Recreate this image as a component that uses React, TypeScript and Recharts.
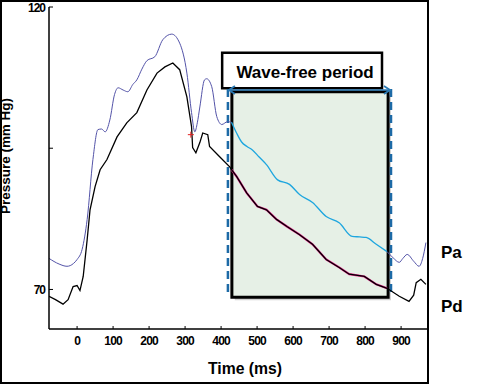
import { LineChart, Line, XAxis, YAxis, ReferenceArea, ReferenceLine, ReferenceDot } from "recharts";

type Pt = { t: number; v: number };
const pts = (rows: number[][]): Pt[] => rows.map(([t, v]) => ({ t, v }));

// time ticks (ms) and pressure ticks (mm Hg)
const timeTicks = [0, 100, 200, 300, 400, 500, 600, 700, 800, 900];
const pressureTicks = [70, 95, 120];
const labelledPressure = [70, 120];

// Pa before the wave-free window
const paBefore = pts([
  [-78, 75.5], [-50, 74.5], [-28, 74.1], [-10, 74.6], [0, 75.3], [14, 77.1], [28, 82.4], [44, 93.0],
  [58, 98.3], [68, 98.4], [78, 97.9], [91, 100.0], [104, 104.5], [114, 105.7], [128, 105.3], [141, 105.0],
  [155, 106.3], [166, 107.1], [180, 109.0], [194, 110.5], [216, 111.2], [238, 114.2], [263, 115.2],
  [285, 113.6], [305, 108.3], [318, 101.3], [327, 97.9], [334, 99.5], [341, 102.3], [354, 107.1],
  [360, 107.3], [374, 105.9], [388, 100.6], [402, 99.2], [418, 99.7], [429, 99.6],
]);

// Pa inside the window
const paWindow = pts([
  [429, 99.6], [443, 97.7], [457, 96.1], [472, 95.3], [487, 94.7], [505, 93.5], [526, 92.1], [557, 89.4],
  [590, 88.6], [618, 86.8], [654, 85.4], [692, 82.9], [728, 81.8], [764, 79.4], [785, 79.3], [803, 79.2],
  [831, 78.0], [861, 76.7],
]);

// Pa after the window
const paAfter = pts([
  [861, 76.7], [878, 75.6], [895, 74.8], [905, 75.5], [917, 76.2], [935, 75.0], [950, 74.1], [960, 75.5], [969, 78.3],
]);

// Pd, whole trace
const pdTrace = pts([
  [-78, 68.8], [-60, 68.2], [-39, 67.4], [-25, 68.2], [-11, 70.5], [0, 70.7], [8, 69.8], [17, 72.3],
  [28, 78.8], [36, 84.1], [50, 88.2], [64, 91.2], [83, 93.0], [111, 97.0], [138, 99.5], [166, 101.3],
  [194, 105.3], [222, 108.3], [244, 109.4], [266, 110.1], [285, 108.9], [305, 104.1], [318, 98.8],
  [321, 95.1], [330, 94.2], [341, 96.0], [349, 97.7], [363, 97.4], [368, 95.3], [396, 93.5], [424, 91.7],
  [429, 91.2], [443, 90.0], [471, 87.1], [501, 84.7], [526, 84.1], [554, 82.4], [584, 81.1], [618, 79.7],
  [654, 78.0], [692, 75.3], [728, 73.9], [756, 72.7], [798, 72.3], [831, 70.9], [861, 70.2], [895, 68.8],
  [922, 67.9], [935, 69.0], [942, 71.2], [955, 71.8], [969, 70.9],
]);

// Pd inside the window (highlight under the black trace)
const pdWindow = pts([
  [429, 91.2], [443, 90.0], [471, 87.1], [501, 84.7], [526, 84.1], [554, 82.4], [584, 81.1], [618, 79.7],
  [654, 78.0], [692, 75.3], [728, 73.9], [756, 72.7], [798, 72.3], [831, 70.9], [861, 70.2],
]);

const SANS = "'Liberation Sans', Arial, sans-serif";
const DASH = "#1d6aa6";

const arrowLeft = ({ cx, cy }: { cx?: number; cy?: number }) => (
  <path d={`M${cx! + 7},${cy! - 4} L${cx! + 1},${cy} L${cx! + 7},${cy! + 4}`} stroke="#2a7ab4" strokeWidth={1.8} fill="none" />
);
const arrowRight = ({ cx, cy }: { cx?: number; cy?: number }) => (
  <path d={`M${cx! - 7},${cy! - 4} L${cx! - 1},${cy} L${cx! - 7},${cy! + 4}`} stroke="#2a7ab4" strokeWidth={1.8} fill="none" />
);
const redCross = ({ cx, cy }: { cx?: number; cy?: number }) => (
  <path d={`M${cx! - 3},${cy} H${cx! + 3} M${cx},${cy! - 3} V${cy! + 3}`} stroke="#e02020" strokeWidth={1} />
);

export default function App() {
  return (
    <div style={{ position: "fixed", left: 0, top: 0, width: 480, height: 384, background: "#fff" }}>
      <div style={{ position: "absolute", left: 0, top: 0, width: 429, height: 384, border: "2px solid #000", boxSizing: "border-box" }} />
      <div style={{ position: "absolute", left: 0, top: 0 }}>
        <LineChart width={480} height={384} margin={{ top: 7, right: 53, bottom: 0, left: 0 }}>
          <XAxis
            type="number" dataKey="t" domain={[-78, 972]} ticks={timeTicks} allowDataOverflow height={55}
            axisLine={{ stroke: "#000", strokeWidth: 1.5 }} tickLine={{ stroke: "#000" }} tickSize={-3} tickMargin={10}
            tick={{ fontSize: 12, fontWeight: 700, fill: "#000", fontFamily: SANS, letterSpacing: -0.8 }}
            label={{
              content: () => (
                <g>
                  <text x={245} y={374} textAnchor="middle" fontSize={16} fontWeight={700} fontFamily={SANS} fill="#000"
                    textLength={74} lengthAdjust="spacingAndGlyphs">Time (ms)</text>
                  <text x={441} y={258} fontSize={17} fontWeight={700} fontFamily={SANS} fill="#000">Pa</text>
                  <text x={441} y={312} fontSize={17} fontWeight={700} fontFamily={SANS} fill="#000">Pd</text>
                </g>
              ),
            }}
          />
          <YAxis
            type="number" domain={[63, 120]} ticks={pressureTicks} allowDataOverflow width={49}
            axisLine={{ stroke: "#000", strokeWidth: 1.5 }} tickLine={{ stroke: "#000" }} tickSize={-4} tickMargin={8}
            tickFormatter={(v: number) => (labelledPressure.includes(v) ? String(v) : "")}
            tick={{ fontSize: 12, fontWeight: 700, fill: "#000", fontFamily: SANS, letterSpacing: -1 }}
            label={{
              content: () => (
                <text x={6} y={156} transform="rotate(-90 6 156)" textAnchor="middle" dominantBaseline="central"
                  fontSize={12} fontWeight={700} fontFamily={SANS} fill="#000"
                  textLength={116} lengthAdjust="spacingAndGlyphs">Pressure (mm Hg)</text>
              ),
            }}
          />
          <ReferenceArea x1={438} x2={872} y1={68.1} y2={104.4} fill="#b8b8b8" fillOpacity={0.6} stroke="none" />
          <ReferenceArea x1={430} x2={864} y1={68.6} y2={105} fill="#e6f0e6" fillOpacity={1} stroke="#000" strokeWidth={3} />
          <ReferenceLine segment={[{ x: 419, y: 105.5 }, { x: 419, y: 69.3 }]} stroke={DASH} strokeWidth={2.5} strokeDasharray="8 5" />
          <ReferenceLine segment={[{ x: 872, y: 105.5 }, { x: 872, y: 69.0 }]} stroke={DASH} strokeWidth={2.5} strokeDasharray="8 5" />
          <ReferenceLine segment={[{ x: 419, y: 105.3 }, { x: 872, y: 105.3 }]} stroke="#2a7ab4" strokeWidth={1.5} />
          <ReferenceDot x={419} y={105.3} r={0} shape={arrowLeft} />
          <ReferenceDot x={872} y={105.3} r={0} shape={arrowRight} />
          <ReferenceArea
            x1={403} x2={847} y1={105.6} y2={111.9} fill="#fff" fillOpacity={1} stroke="#000" strokeWidth={2.5}
            label={{ value: "Wave-free period", position: "center", dx: 3, dy: 1, fill: "#000", fontSize: 17, fontWeight: 700, fontFamily: SANS }}
          />
          <Line data={paBefore} dataKey="v" type="monotone" stroke="#5353a8" strokeWidth={1} dot={false} isAnimationActive={false} />
          <Line data={paWindow} dataKey="v" type="monotone" stroke="#1ea6df" strokeWidth={1.3} dot={false} isAnimationActive={false} />
          <Line data={paAfter} dataKey="v" type="monotone" stroke="#5353a8" strokeWidth={1} dot={false} isAnimationActive={false} />
          <Line data={pdWindow} dataKey="v" type="linear" stroke="#e8208a" strokeWidth={2.2} dot={false} isAnimationActive={false} />
          <Line data={pdTrace} dataKey="v" type="linear" stroke="#000" strokeWidth={1.3} dot={false} isAnimationActive={false} />
          <ReferenceDot x={316} y={97.4} r={0} shape={redCross} />
        </LineChart>
      </div>
    </div>
  );
}
